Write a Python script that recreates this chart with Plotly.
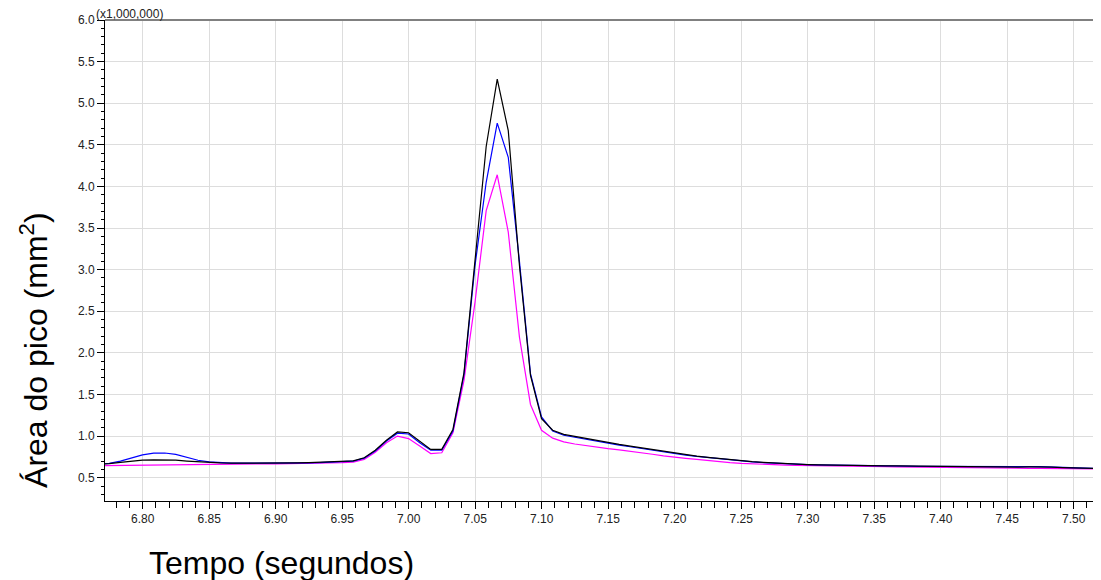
import plotly.graph_objects as go

# Sampling times (s)
time_s = [
    6.7666, 6.7749, 6.7833, 6.7916, 6.7999, 6.8083, 6.8166, 6.8249, 6.8333, 6.8416,
    6.8499, 6.8583, 6.8666, 6.8749, 6.8833, 6.8916, 6.8999, 6.9083, 6.9166, 6.9249,
    6.9333, 6.9416, 6.9499, 6.9583, 6.9666, 6.9749, 6.9833, 6.9916, 6.9999, 7.0083,
    7.0166, 7.0249, 7.0333, 7.0416, 7.0499, 7.0583, 7.0666, 7.0749, 7.0833, 7.0916,
    7.0999, 7.1083, 7.1166, 7.1249, 7.1333, 7.1416, 7.1499, 7.1583, 7.1666, 7.1749,
    7.1833, 7.1916, 7.1999, 7.2083, 7.2166, 7.2249, 7.2333, 7.2416, 7.2499, 7.2583,
    7.2666, 7.2749, 7.2833, 7.2916, 7.2999, 7.3083, 7.3166, 7.3249, 7.3333, 7.3416,
    7.3499, 7.3583, 7.3666, 7.3749, 7.3833, 7.3916, 7.3999, 7.4083, 7.4166, 7.4249,
    7.4333, 7.4416, 7.4499, 7.4583, 7.4666, 7.4749, 7.4833, 7.4916, 7.4999, 7.5083,
    7.5166, 7.5249,
]

# Peak area (x1,000,000 mm^2)
black_series = [
    0.660, 0.668, 0.685, 0.700, 0.710, 0.715, 0.715, 0.710, 0.700, 0.690,
    0.682, 0.677, 0.675, 0.674, 0.674, 0.674, 0.675, 0.676, 0.677, 0.680,
    0.684, 0.688, 0.692, 0.702, 0.740, 0.830, 0.950, 1.050, 1.040, 0.935,
    0.840, 0.840, 1.080, 1.760, 3.150, 4.480, 5.290, 4.670, 3.050, 1.730,
    1.210, 1.070, 1.020, 0.995, 0.970, 0.945, 0.920, 0.900, 0.880, 0.860,
    0.840, 0.815, 0.792, 0.776, 0.760, 0.745, 0.730, 0.715, 0.702, 0.692,
    0.683, 0.675, 0.668, 0.662, 0.657, 0.653, 0.650, 0.648, 0.647, 0.646,
    0.645, 0.643, 0.641, 0.639, 0.637, 0.635, 0.634, 0.633, 0.632, 0.631,
    0.630, 0.629, 0.628, 0.628, 0.629, 0.631, 0.628, 0.622, 0.618, 0.614,
    0.611, 0.609,
]

blue_series = [
    0.660, 0.672, 0.700, 0.740, 0.775, 0.795, 0.797, 0.780, 0.745, 0.710,
    0.690, 0.680, 0.676, 0.674, 0.673, 0.673, 0.673, 0.674, 0.675, 0.677,
    0.680, 0.684, 0.688, 0.698, 0.735, 0.820, 0.940, 1.035, 1.025, 0.920,
    0.830, 0.830, 1.060, 1.740, 3.050, 4.050, 4.760, 4.350, 3.100, 1.750,
    1.230, 1.060, 1.010, 0.985, 0.960, 0.935, 0.912, 0.892, 0.872, 0.852,
    0.832, 0.808, 0.787, 0.772, 0.756, 0.741, 0.727, 0.712, 0.700, 0.690,
    0.681, 0.674, 0.667, 0.662, 0.658, 0.655, 0.652, 0.650, 0.648, 0.646,
    0.644, 0.642, 0.640, 0.638, 0.637, 0.636, 0.634, 0.632, 0.630, 0.629,
    0.628, 0.627, 0.627, 0.629, 0.632, 0.633, 0.628, 0.621, 0.616, 0.613,
    0.610, 0.608,
]

magenta_series = [
    0.645, 0.647, 0.649, 0.651, 0.653, 0.655, 0.657, 0.658, 0.659, 0.660,
    0.661, 0.662, 0.663, 0.664, 0.665, 0.666, 0.667, 0.668, 0.669, 0.671,
    0.674, 0.677, 0.680, 0.688, 0.720, 0.805, 0.920, 1.000, 0.970, 0.880,
    0.790, 0.800, 1.040, 1.670, 2.610, 3.710, 4.140, 3.450, 2.190, 1.380,
    1.070, 0.975, 0.930, 0.905, 0.885, 0.866, 0.850, 0.835, 0.820, 0.802,
    0.782, 0.762, 0.744, 0.732, 0.720, 0.706, 0.693, 0.682, 0.673, 0.666,
    0.660, 0.655, 0.651, 0.648, 0.645, 0.643, 0.641, 0.639, 0.637, 0.635,
    0.634, 0.632, 0.630, 0.628, 0.626, 0.624, 0.622, 0.620, 0.618, 0.616,
    0.614, 0.613, 0.612, 0.612, 0.613, 0.613, 0.611, 0.609, 0.608, 0.607,
    0.606, 0.605,
]

x_title = "Tempo (segundos)"
y_title = "Área do pico (mm<sup>2</sup>)"
scale_label = "(x1,000,000)"

FONT = "Arial, 'Liberation Sans', sans-serif"

fig = go.Figure()
for ys, col in [(magenta_series, "#ff00ff"), (blue_series, "#0000ff"), (black_series, "#000000")]:
    fig.add_trace(go.Scatter(x=time_s, y=ys, mode="lines",
                             line=dict(color=col, width=1.2), hoverinfo="skip"))

# The page body has an 8px margin, so the figure is sized/offset to compensate.
fig.update_layout(
    width=1093, height=572,
    margin=dict(l=97, r=1, t=12, b=79, autoexpand=False),
    paper_bgcolor="white", plot_bgcolor="white",
    showlegend=False,
    font=dict(family=FONT, size=12, color="#222222"),
)

fig.update_xaxes(
    range=[6.7717, 7.5198],
    tick0=6.8, dtick=0.05, tickformat=".2f",
    ticks="outside", ticklen=7, tickcolor="#000000", tickwidth=1,
    minor=dict(dtick=0.01, ticks="outside", ticklen=6, tickcolor="#000000", showgrid=False),
    showline=True, linecolor="#000000", linewidth=1,
    showgrid=True, gridcolor="#dddddd", gridwidth=1, zeroline=False,
    tickfont=dict(size=12, family=FONT, color="#222222"),
    automargin=False,
)
fig.update_yaxes(
    range=[0.22, 6.0],
    tick0=0, dtick=0.5, tickformat=".1f",
    ticks="outside", ticklen=7, tickcolor="#000000", tickwidth=1,
    minor=dict(dtick=0.1, ticks="outside", ticklen=3, tickcolor="#000000", showgrid=False),
    showline=True, linecolor="#000000", linewidth=1,
    showgrid=True, gridcolor="#dddddd", gridwidth=1, zeroline=False,
    tickfont=dict(size=12, family=FONT, color="#222222"),
    automargin=False,
)

fig.add_shape(type="line", xref="paper", yref="paper", x0=0, x1=1, y0=1, y1=1,
              line=dict(color="#808080", width=2))

fig.add_annotation(text=scale_label, xref="paper", yref="paper", x=-0.011, y=1,
                   xanchor="left", yanchor="bottom", showarrow=False,
                   font=dict(size=12, family=FONT, color="#222222"), yshift=-3)
fig.add_annotation(text=x_title, xref="paper", yref="paper", x=0.177, y=-0.128,
                   xanchor="center", yanchor="middle", showarrow=False,
                   font=dict(size=32, family=FONT, color="#000000"))
fig.add_annotation(text=y_title, xref="paper", yref="paper", x=-0.0714, y=0.314,
                   xanchor="center", yanchor="middle", textangle=-90, showarrow=False,
                   font=dict(size=32, family=FONT, color="#000000"))

fig.write_html("out.html")
